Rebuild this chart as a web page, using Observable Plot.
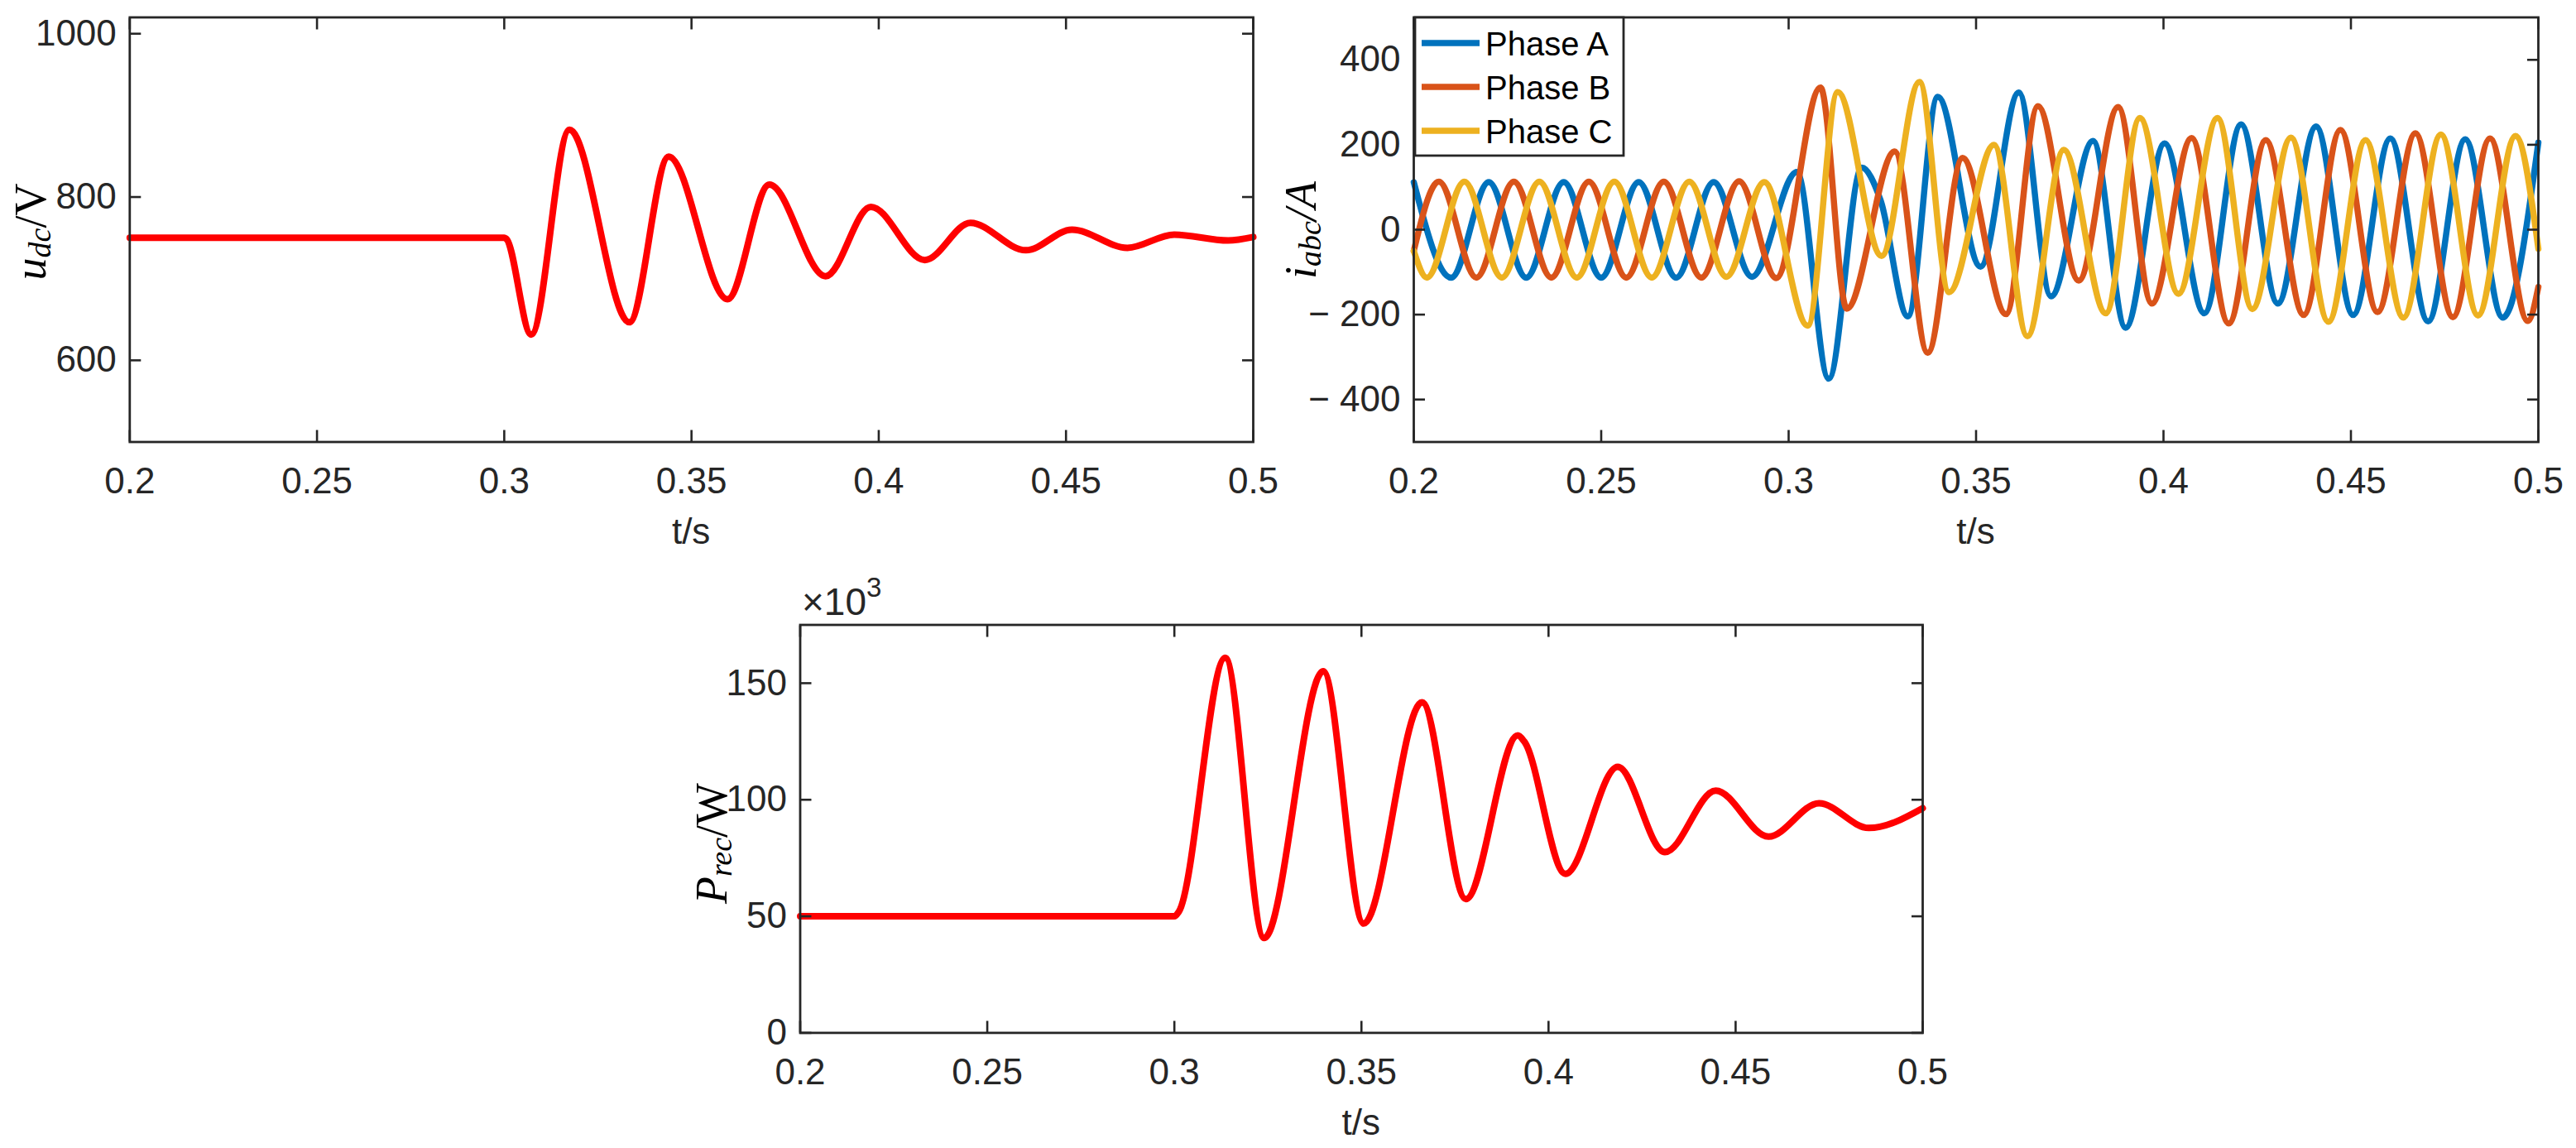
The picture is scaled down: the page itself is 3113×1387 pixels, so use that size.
<!DOCTYPE html>
<html><head><meta charset="utf-8">
<script src="https://cdn.jsdelivr.net/npm/d3@7"></script>
<script src="https://cdn.jsdelivr.net/npm/@observablehq/plot@0.6"></script>
<style>
html,body{margin:0;padding:0;background:#fff;}
#wrap{position:relative;width:3113px;height:1387px;overflow:hidden;background:#fff;}
#wrap svg{position:absolute;overflow:visible;}
</style></head><body><div id="wrap"></div>
<script>
// ---------- data ----------
const xTicks = [0.2, 0.25, 0.3, 0.35, 0.4, 0.45, 0.5];

// DC-link voltage u_dc (V)
const tUdc = [0.2, 0.3, 0.3005, 0.3072, 0.3174, 0.3334, 0.3439, 0.3596, 0.3708, 0.3858, 0.3979, 0.4123, 0.4245, 0.4393, 0.4516, 0.4664, 0.4789, 0.4933, 0.5];
const vUdc = [750, 750, 749, 631.6, 882.4, 646.6, 849.4, 674.8, 815.2, 703, 788, 722.8, 768.4, 734.8, 760, 737.8, 754, 746.8, 751];
const udcTicks = [600, 800, 1000];

// three-phase currents i_abc (A)
const phases = ["Phase A", "Phase B", "Phase C"];
const phaseColors = ["#0072BD", "#D95319", "#EDB120"];
const tA = [0.2, 0.21, 0.22, 0.23, 0.24, 0.25, 0.26, 0.27, 0.28, 0.2902, 0.3022, 0.3107, 0.3195, 0.3245, 0.3318, 0.3398, 0.3512, 0.3614, 0.37, 0.3812, 0.3899, 0.4003, 0.4109, 0.4207, 0.4305, 0.4407, 0.4506, 0.4605, 0.4706, 0.4805, 0.4905, 0.5];
const iA = [112, -113, 112, -113, 112, -113, 112, -113, 112, -111, 136, -351, 146, 70, -204, 313, -87, 323, -157, 209, -231, 203, -197, 248, -174, 243, -201, 215, -216, 213, -207, 205];
const tB = [0.2, 0.2067, 0.2167, 0.2267, 0.2367, 0.2467, 0.2567, 0.2667, 0.2767, 0.2868, 0.2967, 0.3085, 0.3155, 0.3283, 0.3371, 0.3464, 0.358, 0.3665, 0.3774, 0.3879, 0.3969, 0.4075, 0.4174, 0.4273, 0.4374, 0.4472, 0.4571, 0.4672, 0.4772, 0.4871, 0.4972, 0.5];
const iB = [-50, 113, -113, 113, -113, 113, -113, 113, -113, 114, -114, 335, -186, 184, -290, 169, -199, 291, -120, 289, -174, 216, -221, 211, -201, 235, -194, 227, -206, 215, -215, -135];
const tC = [0.2, 0.2035, 0.2135, 0.2235, 0.2335, 0.2435, 0.2535, 0.2635, 0.2735, 0.2834, 0.2935, 0.3051, 0.3131, 0.3248, 0.3349, 0.3428, 0.3548, 0.3637, 0.3734, 0.3846, 0.3937, 0.404, 0.4144, 0.4237, 0.434, 0.444, 0.4539, 0.464, 0.474, 0.4839, 0.4939, 0.5];
const iC = [-50, -113, 113, -113, 113, -113, 113, -113, 113, -111, 112, -226, 324, -62, 348, -147, 200, -251, 188, -197, 263, -151, 263, -187, 217, -217, 211, -207, 224, -202, 221, -45];
const iTicks = [-400, -200, 0, 200, 400];

// rectifier power P_rec (×10^3 W)
const tP = [0.2, 0.3, 0.3012, 0.3136, 0.324, 0.3398, 0.3506, 0.3662, 0.3779, 0.3918, 0.3935, 0.4045, 0.4185, 0.4311, 0.4447, 0.4588, 0.4723, 0.4856, 0.5];
const vP = [50, 50, 52, 160.9, 40.7, 155.1, 46.9, 141.8, 57.4, 127.6, 125, 68.2, 114.1, 77.5, 103.9, 84.2, 98.5, 87.9, 96.4];
const pTicks = [0, 50, 100, 150];

// ---------- helpers ----------
const ink = "#262626";
const sans = "'Liberation Sans', Arial, Helvetica, sans-serif";
const serif = "'Liberation Serif', 'Times New Roman', serif";
const FS = 44;
const LW = 8;
const fmtY = d => d < 0 ? "\u2212 " + (-d) : String(d);

function frameMarks(yTicks) {
  return [
    Plot.frame({stroke: ink, strokeWidth: 2.8}),
    Plot.axisX(xTicks, {anchor: "bottom", tickSize: 14, dy: -14, tickFormat: () => "", label: null, stroke: ink, strokeWidth: 2.6}),
    Plot.axisX(xTicks, {anchor: "top", tickSize: 14, dy: 14, tickFormat: () => "", label: null, stroke: ink, strokeWidth: 2.6}),
    Plot.axisY(yTicks, {anchor: "left", tickSize: 14, dx: 14, tickFormat: () => "", label: null, stroke: ink, strokeWidth: 2.6}),
    Plot.axisY(yTicks, {anchor: "right", tickSize: 14, dx: -14, tickFormat: () => "", label: null, stroke: ink, strokeWidth: 2.6}),
    Plot.axisX(xTicks, {anchor: "bottom", tickSize: 0, tickPadding: 31, tickFormat: d => String(d), label: null, fill: ink, fontSize: FS}),
    Plot.axisY(yTicks, {anchor: "left", tickSize: 0, tickPadding: 16, tickFormat: fmtY, label: null, fill: ink, fontSize: FS})
  ];
}

function panel(cfg) {
  const svg = Plot.plot({
    width: cfg.width, height: cfg.height,
    marginTop: cfg.mt, marginRight: cfg.mr, marginBottom: cfg.mb, marginLeft: cfg.ml,
    style: {fontFamily: sans, fontSize: FS + "px", color: ink, background: "transparent", overflow: "visible"},
    x: {domain: [0.2, 0.5]},
    y: {domain: cfg.yDomain},
    color: cfg.color,
    marks: [...cfg.marks, ...frameMarks(cfg.yTicks)]
  });
  svg.style.left = cfg.left + "px";
  svg.style.top = cfg.top + "px";
  document.getElementById("wrap").appendChild(svg);
  const s = d3.select(svg);
  // x label
  s.append("text")
    .attr("x", (cfg.ml + cfg.width - cfg.mr) / 2)
    .attr("y", cfg.xLabelY)
    .attr("text-anchor", "middle")
    .attr("font-family", sans).attr("font-size", FS).attr("fill", ink)
    .text("t/s");
  // y label (rotated, with subscript)
  const yl = s.append("text")
    .attr("transform", `translate(${cfg.yLabel.x},${cfg.yLabel.y}) rotate(-90)`)
    .attr("text-anchor", "middle")
    .attr("font-family", serif).attr("fill", "#000");
  yl.append("tspan").attr("font-size", 54).attr("font-style", "italic").text(cfg.yLabel.main);
  yl.append("tspan").attr("font-size", 38).attr("font-style", "italic").attr("dy", 6).text(cfg.yLabel.sub);
  yl.append("tspan").attr("font-size", 54).attr("font-style", cfg.yLabel.unitItalic ? "italic" : "normal").attr("dy", -6).text(cfg.yLabel.unit);
  return s;
}

// ---------- panel 1: u_dc ----------
const udcData = tUdc.map((t, i) => ({t, v: vUdc[i]}));
panel({
  left: 0, top: 0, width: 1545, height: 680, mt: 20.5, mr: 31, mb: 146.5, ml: 156.3,
  yDomain: [500, 1020], yTicks: udcTicks, xLabelY: 657,
  yLabel: {x: 55, y: 280, main: "u", sub: "dc", unit: "/V", unitItalic: false},
  marks: [Plot.line(udcData, {x: "t", y: "v", stroke: "#FF0000", strokeWidth: LW, curve: "monotone-x"})]
});

// ---------- panel 2: i_abc ----------
const iData = [
  ...tA.map((t, i) => ({t, v: iA[i], phase: phases[0]})),
  ...tB.map((t, i) => ({t, v: iB[i], phase: phases[1]})),
  ...tC.map((t, i) => ({t, v: iC[i], phase: phases[2]}))
];
const p2 = panel({
  left: 1545, top: 0, width: 1568, height: 680, mt: 20.5, mr: 46, mb: 146.5, ml: 163,
  yDomain: [-500, 500], yTicks: iTicks, xLabelY: 657,
  color: {domain: phases, range: phaseColors},
  yLabel: {x: 45, y: 278, main: "i", sub: "abc", unit: "/A", unitItalic: true},
  marks: [Plot.line(iData, {x: "t", y: "v", z: "phase", stroke: "phase", strokeWidth: 7.5, curve: "monotone-x"})]
});
// legend
const lg = p2.append("g");
lg.append("rect").attr("x", 165).attr("y", 21).attr("width", 252).attr("height", 167)
  .attr("fill", "#fff").attr("stroke", ink).attr("stroke-width", 2.8);
phases.forEach((name, i) => {
  const cy = 52 + i * 53;
  lg.append("line").attr("x1", 173).attr("x2", 243).attr("y1", cy).attr("y2", cy)
    .attr("stroke", phaseColors[i]).attr("stroke-width", 7.5);
  lg.append("text").attr("x", 250).attr("y", cy + 14.5).attr("text-anchor", "start")
    .attr("font-family", sans).attr("font-size", 40).attr("fill", "#000").text(name);
});

// ---------- panel 3: P_rec ----------
const pData = tP.map((t, i) => ({t, v: vP[i]}));
const p3 = panel({
  left: 780, top: 680, width: 1600, height: 707, mt: 74.5, mr: 57, mb: 139.6, ml: 186.5,
  yDomain: [0, 175], yTicks: pTicks, xLabelY: 691,
  yLabel: {x: 98, y: 339, main: "P", sub: "rec", unit: "/W", unitItalic: false},
  marks: [Plot.line(pData, {x: "t", y: "v", stroke: "#FF0000", strokeWidth: LW, curve: "monotone-x"})]
});
const ex = p3.append("text").attr("x", 189).attr("y", 63).attr("text-anchor", "start")
  .attr("font-family", sans).attr("font-size", 46).attr("fill", ink);
ex.append("tspan").text("×10");
ex.append("tspan").attr("font-size", 33).attr("dy", -22).text("3");
</script>
</body></html>
